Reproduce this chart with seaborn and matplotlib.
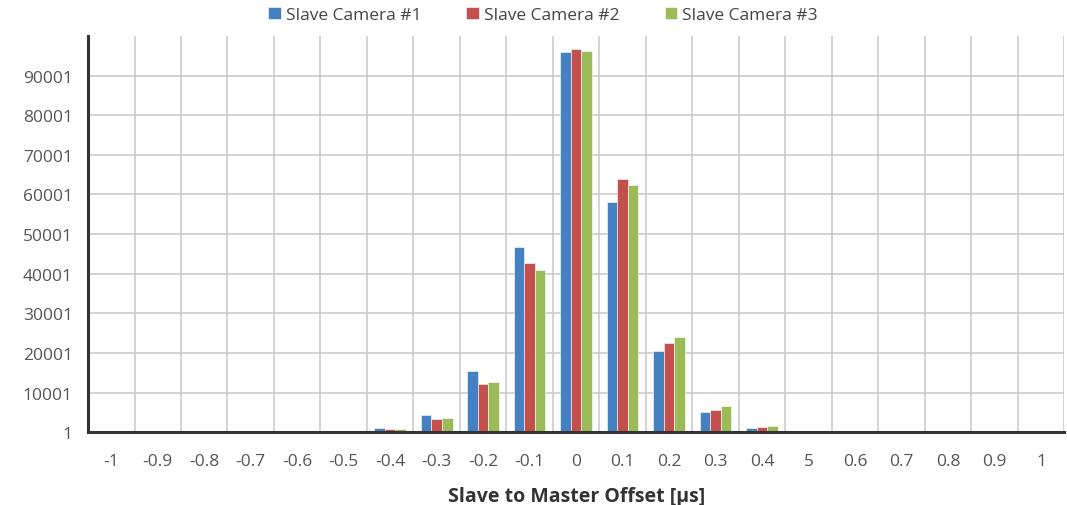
import numpy as np
import pandas as pd
import matplotlib
matplotlib.use("Agg")
import matplotlib.pyplot as plt
import seaborn as sns

# offset bins (label "5" is how the original chart prints 0.5)
offsets = ["-1", "-0.9", "-0.8", "-0.7", "-0.6", "-0.5", "-0.4", "-0.3", "-0.2", "-0.1",
           "0", "0.1", "0.2", "0.3", "0.4", "5", "0.6", "0.7", "0.8", "0.9", "1"]
cam1 = [1, 1, 1, 1, 1, 40, 1000, 4350, 15400, 46800, 95900, 58200, 20500, 5200, 1000,
        60, 1, 1, 1, 1, 1]
cam2 = [1, 1, 1, 1, 1, 30, 750, 3280, 12100, 42600, 96700, 63800, 22400, 5600, 1180,
        60, 1, 1, 1, 1, 1]
cam3 = [1, 1, 1, 1, 1, 30, 830, 3530, 12600, 40800, 96300, 62400, 24000, 6500, 1500,
        80, 1, 1, 1, 1, 1]
series = ["Slave Camera #1", "Slave Camera #2", "Slave Camera #3"]
yticks = [1, 10001, 20001, 30001, 40001, 50001, 60001, 70001, 80001, 90001]

df = pd.DataFrame({
    "offset": offsets * 3,
    "count": cam1 + cam2 + cam3,
    "camera": [s for s in series for _ in offsets],
})

sns.set_style("white")
plt.rcParams["font.family"] = ["Open Sans", "DejaVu Sans"]

fig = plt.figure(figsize=(10.67, 5.06), dpi=100)
ax = fig.add_axes([0.0825, 0.144, 0.915, 0.783])

palette = ["#4581C0", "#C4504D", "#9BBB59"]
sns.barplot(data=df, x="offset", y="count", hue="camera", order=offsets,
            hue_order=series, palette=palette, width=0.68, saturation=1,
            edgecolor="white", linewidth=0.4, ax=ax)

ax.set_ylim(1, 100001)
ax.set_xlim(-0.5, len(offsets) - 0.5)
ax.set_yticks(yticks)
ax.set_yticklabels([str(v) for v in yticks])

# labels at bin centres, tick marks and vertical grid on bin boundaries
ax.set_xticks(range(len(offsets)))
ax.set_xticklabels(offsets)
ax.set_xticks(np.arange(-0.5, len(offsets), 1), minor=True)
ax.tick_params(axis="x", which="major", length=0, pad=15, labelsize=12.5, labelcolor="#555555")
ax.tick_params(axis="x", which="minor", length=6, width=2, color="#333333", direction="out")
ax.tick_params(axis="y", length=5, width=2, color="#333333", direction="out",
               labelsize=12.5, labelcolor="#555555", pad=6)

ax.grid(True, axis="y", color="#C8C8C8", linewidth=1.1)
ax.grid(True, axis="x", which="minor", color="#C8C8C8", linewidth=1.1)
ax.grid(False, axis="x", which="major")
ax.set_axisbelow(True)

for side in ["top", "right"]:
    ax.spines[side].set_visible(False)
for side in ["left", "bottom"]:
    ax.spines[side].set_color("#333333")
    ax.spines[side].set_linewidth(2.2)

ax.set_ylabel("")
ax.set_xlabel("Slave to Master Offset [µs]", fontsize=14, fontweight="bold",
              color="#333333", labelpad=12)

ax.legend(loc="center", bbox_to_anchor=(0.466, 1.053), ncol=3, frameon=False,
          fontsize=12.5, handlelength=0.7, handleheight=0.7, handletextpad=0.3,
          columnspacing=2.6, labelcolor="#444444")

fig.savefig("out.png", dpi=100)
